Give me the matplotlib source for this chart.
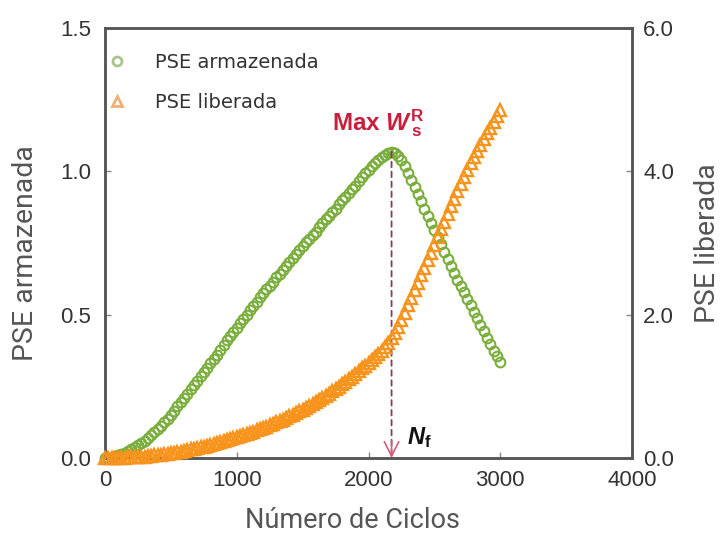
import numpy as np
import matplotlib.pyplot as plt
from matplotlib.lines import Line2D

plt.rcParams["mathtext.fontset"] = "custom"
plt.rcParams["mathtext.rm"] = "Liberation Sans:bold"
plt.rcParams["mathtext.bf"] = "Liberation Sans:bold"
plt.rcParams["mathtext.it"] = "Liberation Sans:italic:bold"

# Cycle counts at which both energies are sampled
cycles = list(range(0, 3001, 25))

# Stored strain energy (left axis)
pse_armazenada = [
    0.000, 0.001, 0.003, 0.006, 0.010, 0.014, 0.019, 0.024, 0.030, 0.037,
    0.045, 0.052, 0.060, 0.070, 0.080, 0.090, 0.100, 0.112, 0.125, 0.137,
    0.150, 0.165, 0.180, 0.195, 0.210, 0.225, 0.240, 0.255, 0.270, 0.285,
    0.300, 0.315, 0.330, 0.345, 0.360, 0.378, 0.395, 0.410, 0.425, 0.440,
    0.455, 0.470, 0.485, 0.500, 0.515, 0.530, 0.545, 0.560, 0.575, 0.588,
    0.600, 0.615, 0.630, 0.643, 0.655, 0.670, 0.685, 0.698, 0.710, 0.725,
    0.740, 0.752, 0.765, 0.778, 0.790, 0.805, 0.820, 0.832, 0.845, 0.858,
    0.870, 0.885, 0.900, 0.912, 0.925, 0.938, 0.950, 0.965, 0.980, 0.993,
    1.005, 1.018, 1.030, 1.040, 1.050, 1.058, 1.065, 1.068, 1.065, 1.055,
    1.040, 1.020, 0.995, 0.970, 0.945, 0.920, 0.895, 0.870, 0.845, 0.820,
    0.795, 0.770, 0.745, 0.720, 0.695, 0.670, 0.645, 0.622, 0.600, 0.578,
    0.555, 0.532, 0.510, 0.488, 0.465, 0.442, 0.420, 0.398, 0.375, 0.355,
    0.335,
]

# Released strain energy (right axis)
pse_liberada = [
    0.000, 0.000, 0.000, 0.001, 0.002, 0.003, 0.005, 0.007, 0.010, 0.012,
    0.015, 0.017, 0.020, 0.025, 0.030, 0.035, 0.040, 0.045, 0.050, 0.057,
    0.065, 0.072, 0.080, 0.090, 0.100, 0.110, 0.120, 0.130, 0.140, 0.150,
    0.160, 0.172, 0.185, 0.197, 0.210, 0.222, 0.235, 0.247, 0.260, 0.275,
    0.290, 0.305, 0.320, 0.336, 0.352, 0.368, 0.385, 0.402, 0.420, 0.438,
    0.457, 0.476, 0.496, 0.516, 0.537, 0.558, 0.580, 0.602, 0.625, 0.650,
    0.675, 0.700, 0.727, 0.754, 0.782, 0.810, 0.840, 0.870, 0.900, 0.930,
    0.962, 0.995, 1.030, 1.065, 1.100, 1.135, 1.170, 1.210, 1.250, 1.290,
    1.330, 1.370, 1.410, 1.455, 1.500, 1.555, 1.610, 1.670, 1.740, 1.830,
    1.920, 2.025, 2.130, 2.235, 2.340, 2.445, 2.550, 2.655, 2.760, 2.865,
    2.970, 3.080, 3.190, 3.295, 3.400, 3.510, 3.620, 3.720, 3.820, 3.920,
    4.020, 4.110, 4.200, 4.285, 4.370, 4.450, 4.530, 4.610, 4.690, 4.770,
    4.850,
]

x_ticks = [0, 1000, 2000, 3000, 4000]
left_ticks = [0.0, 0.5, 1.0, 1.5]
right_ticks = [0.0, 2.0, 4.0, 6.0]

GREEN = "#7aae3c"
ORANGE = "#f7941d"
SPINE = "#555555"
TICK_TXT = "#333333"
LABEL_TXT = "#555555"
RED = "#c8203c"

fig = plt.figure(figsize=(7.21, 5.47), dpi=100)
ax = fig.add_axes([105 / 721, 89 / 547, 527 / 721, 430 / 547])
ax2 = ax.twinx()

ax.plot(cycles, pse_armazenada, linestyle="none", marker="o", markersize=7,
        markerfacecolor="none", markeredgecolor=GREEN, markeredgewidth=1.5,
        clip_on=False, zorder=3)
ax2.plot(cycles, pse_liberada, linestyle="none", marker="^", markersize=9,
         markerfacecolor="none", markeredgecolor=ORANGE, markeredgewidth=1.7,
         clip_on=False, zorder=3)

ax.set_xlim(0, 4000)
ax.set_ylim(0, 1.5)
ax2.set_ylim(0, 6.0)

ax.set_xticks(x_ticks)
ax.set_xticklabels([str(t) for t in x_ticks])
ax.set_yticks(left_ticks)
ax.set_yticklabels([f"{t:.1f}" for t in left_ticks])
ax2.set_yticks(right_ticks)
ax2.set_yticklabels([f"{t:.1f}" for t in right_ticks])

for a in (ax, ax2):
    for s in a.spines.values():
        s.set_color(SPINE)
        s.set_linewidth(1.8)
    a.tick_params(direction="in", length=4, width=1, color="#888888",
                  labelsize=16, labelcolor=TICK_TXT)
    for lbl in a.get_xticklabels() + a.get_yticklabels():
        lbl.set_fontfamily("Liberation Sans")
ax.tick_params(axis="x", pad=9)
ax.tick_params(axis="y", pad=10)
ax2.tick_params(axis="y", pad=8)

ax.set_xlabel("Número de Ciclos", fontsize=19.5, color=LABEL_TXT,
              family="Roboto")
ax.xaxis.set_label_coords(0.469, -0.113)
ax.set_ylabel("PSE armazenada", fontsize=20.5, color=LABEL_TXT,
              family="Roboto")
ax.yaxis.set_label_coords(-0.126, 0.477)
ax2.set_ylabel("PSE liberada", fontsize=20.5, color=LABEL_TXT,
               family="Roboto")
ax2.yaxis.set_label_coords(1.118, 0.5)

# Peak of the stored energy and the dashed drop to the failure life N_f
i_peak = int(np.argmax(pse_armazenada))
n_f = cycles[i_peak]
peak = pse_armazenada[i_peak]
ax.annotate("", xy=(n_f, 0.0), xytext=(n_f, peak),
            arrowprops=dict(arrowstyle="-", color="#8a3a5a", lw=1.3,
                            linestyle=(0, (3, 2.5)), shrinkA=0, shrinkB=0),
            zorder=4)
ax.annotate("", xy=(n_f, 0.0), xytext=(n_f, 0.06),
            arrowprops=dict(arrowstyle="->", color="#d0607a", lw=1.2,
                            mutation_scale=26, shrinkA=0, shrinkB=0),
            zorder=4)
ax.text(n_f - 450, peak + 0.075,
        r"Max $\mathit{W}^{\mathrm{R}}_{\,\mathrm{s}}$",
        color=RED, fontsize=17.5, fontweight="bold", ha="left",
        va="baseline", family="Liberation Sans")
ax.text(n_f + 120, 0.028, r"$\mathit{N}_{\mathrm{f}}$", color="#111111",
        fontsize=17, ha="left", va="bottom")

handles = [
    Line2D([], [], linestyle="none", marker="o", markersize=6.5,
           markerfacecolor="none", markeredgecolor="#a9c58a",
           markeredgewidth=2.0),
    Line2D([], [], linestyle="none", marker="^", markersize=7.5,
           markerfacecolor="none", markeredgecolor="#f2ae74",
           markeredgewidth=2.0),
]
leg = ax.legend(handles, ["PSE armazenada", "PSE liberada"], loc="upper left",
                bbox_to_anchor=(0.005, 0.943), frameon=False, borderpad=0,
                borderaxespad=0, handlelength=1.0, handletextpad=1.45,
                labelspacing=1.1,
                prop={"family": "DejaVu Sans", "size": 14})
for t in leg.get_texts():
    t.set_color("#333333")

fig.savefig("out.png", dpi=100)
